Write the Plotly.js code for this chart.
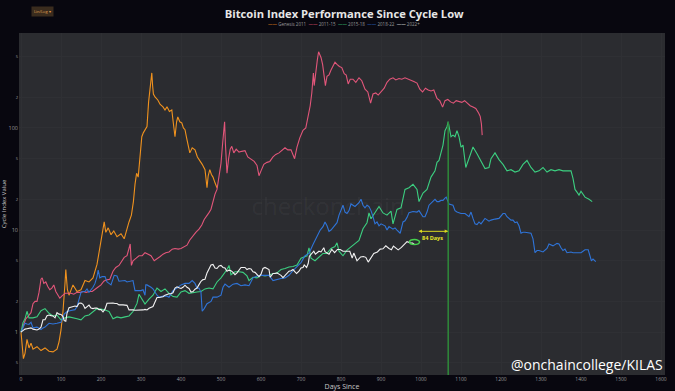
<!DOCTYPE html>
<html><head><meta charset="utf-8">
<script src="https://cdn.plot.ly/plotly-3.0.1.min.js"></script>
<style>html,body{margin:0;padding:0;background:#08070f;}#chart{width:675px;height:391px;}</style>
</head><body><div id="chart"></div>
<script>
// ---- Data (days since cycle low, index value = price / price at cycle low) ----
const seriesNames = ['Genesis 2011', '2011-15', '2015-18', '2018-22', '2022+'];
const seriesColors = ['#f0921e', '#e2567a', '#3ccf80', '#2f74d8', '#f2f2f2'];

const genesisDays = [0,3,6,10,15,20,25,30,40,50,
  60,70,80,90,95,100,105,110,112,116,
  120,130,140,150,160,170,180,190,200,205,
  208,212,218,225,232,240,250,258,265,270,
  276,281,285,289,293,297,302,306,310,315,
  319,322,325,327,329,331,335,342,348,355,
  360,365,371,377,381,385,389,392,397,402,
  406,410,414,417,422,428,435,441,447,453,
  460,465,468,472,476,480,485,490];
const genesisIdx = [1.0,0.75,0.55,0.62,0.85,0.7,0.78,0.68,0.72,0.66,
  0.7,0.65,0.64,0.68,0.8,1.05,1.6,3.0,4.1,2.6,
  2.3,2.9,2.5,2.6,3.2,3.1,3.4,4.6,7.5,10.5,
  12,9.5,10.5,9,9.8,8.6,9.2,8.2,10.5,12,
  14,19,28,36,33,55,82,90,96,103,
  180,220,280,346,260,215,201,188,170,161,
  150,161,145,150,110,82,115,128,115,112,
  100,96,80,71,57,64,61,52,48,44,
  39,26,34,39,35,33,29,26];

const c1115Days = [0,4,8,12,16,20,25,30,35,40,
  45,50,53,57,62,67,72,77,82,87,
  92,97,102,110,118,125,132,140,148,155,
  163,170,178,185,192,200,207,214,222,230,
  237,245,252,258,265,270,273,276,280,288,
  295,303,310,318,325,333,340,348,355,362,
  370,378,385,393,400,408,415,422,430,437,
  445,452,458,465,470,475,480,485,490,495,
  500,504,507,509,511,513,515,519,523,527,
  532,538,545,552,560,567,575,583,590,595,
  600,607,615,622,630,637,645,652,660,667,
  675,684,690,697,705,712,718,723,727,731,
  733,737,741,744,747,750,754,757,761,765,
  770,775,780,785,790,796,802,808,813,818,
  823,830,837,845,852,860,867,874,880,887,
  893,900,908,915,922,930,937,945,952,960,
  967,975,982,990,997,1004,1011,1018,1025,1032,
  1040,1047,1054,1060,1067,1074,1081,1088,1095,1102,
  1109,1116,1123,1130,1137,1144,1148,1151,1153];
const c1115Idx = [1.0,1.1,1.25,1.35,1.4,1.45,1.55,1.9,2.0,2.0,
  2.45,3.3,3.4,3.0,3.1,2.8,2.6,2.7,2.9,2.5,
  2.3,2.15,2.25,2.4,2.4,2.4,2.35,2.45,2.45,2.5,
  2.45,2.5,2.5,2.6,2.75,2.9,3.15,3.25,3.3,3.95,
  4.3,4.5,5.0,5.4,5.6,6.4,7.3,4.5,5.0,5.3,
  5.6,5.6,6.0,5.8,5.6,5.0,5.2,5.5,5.8,6.0,
  6.1,6.5,6.6,6.5,6.6,6.8,7.1,8.0,8.8,9.5,
  10.2,11.2,12.7,13.8,14.8,16.0,19.5,22.5,25.0,35.0,
  45,70,95,115,70,45,36,50,62,66,
  57,62,58,59,60,52,49,47,43,34,
  38,44,46,47,52,55,57,60,64,61,
  61,50,65,80,95,100,130,165,220,345,
  260,380,470,558,520,490,420,345,260,320,
  330,370,410,440,420,400,390,340,330,270,
  300,300,280,310,290,240,225,175,215,220,
  210,225,245,280,300,310,295,305,300,310,
  300,290,285,275,240,225,245,235,230,235,
  195,185,160,185,190,180,175,185,180,178,
  185,175,165,160,155,140,130,110,85];

const c1518Days = [0,5,10,15,20,30,40,50,60,70,
  80,90,100,110,120,130,140,150,160,170,
  180,190,200,210,220,230,240,250,260,270,
  280,290,295,300,310,320,330,340,350,360,
  370,380,390,400,410,420,430,440,450,460,
  470,480,490,500,515,520,525,535,545,555,
  565,570,580,590,600,610,620,630,640,650,
  660,670,680,690,700,715,720,725,735,745,
  755,765,775,785,790,795,805,815,825,835,
  845,855,865,870,875,885,895,905,915,925,
  930,940,950,960,970,980,990,995,1005,1015,
  1025,1035,1040,1045,1050,1055,1060,1065,1068,1072,
  1075,1080,1085,1090,1095,1100,1105,1112,1120,1130,
  1140,1150,1160,1170,1175,1185,1195,1205,1215,1225,
  1235,1245,1255,1265,1275,1285,1295,1305,1315,1325,
  1335,1345,1355,1365,1375,1380,1385,1390,1395,1400,
  1410,1420,1428];
const c1518Idx = [1.0,1.24,1.35,1.6,1.38,1.38,1.41,1.62,1.7,1.53,
  1.44,1.47,1.32,1.38,1.41,1.39,1.35,1.32,1.44,1.47,
  1.59,1.7,1.68,1.65,1.59,1.35,1.41,1.38,1.41,1.44,
  1.59,1.91,2.35,2.2,1.88,2.1,2.3,2.7,2.5,2.65,
  2.4,2.23,2.2,2.47,2.55,2.4,2.45,2.47,2.5,2.65,
  2.7,2.65,3.1,3.4,4.1,4.5,3.65,3.9,3.9,3.85,
  3.55,3.2,3.45,3.4,3.6,3.55,3.6,3.75,3.8,4.1,
  4.2,4.35,4.4,4.55,5.3,5.6,6.7,5.3,5.0,5.4,
  5.9,5.9,6.6,6.9,7.5,6.2,5.6,6.35,6.9,7.35,
  7.9,10.3,11.8,14.7,12.9,14.7,17,14.7,14,15.3,
  11.5,15.9,16.5,25,26,28,25,19,23,25,
  33,38,46,48,59,68,94,103,115,94,
  82,85,82,94,82,65,68,41,50,65,
  56,47,40,41,50,57,49,44,38,39,
  37,38,44,48,41,37,38,41,37,39,
  38,39,38,38,38,32,25,23.5,22,24,
  21,20,19];

const c1822Days = [0,5,10,15,20,25,30,40,50,55,
  60,70,80,90,100,108,115,125,135,140,
  145,150,155,160,165,170,180,185,190,193,
  197,203,210,215,220,225,233,240,245,255,
  260,265,270,280,285,290,300,305,310,312,
  315,325,330,340,345,355,365,370,380,390,
  400,410,420,428,435,440,445,450,453,458,
  465,475,480,490,500,505,510,520,530,540,
  550,560,570,580,590,600,610,620,630,640,
  650,660,670,680,690,700,710,720,730,740,
  748,755,760,765,770,775,780,790,795,800,
  805,810,815,820,825,835,845,850,855,860,
  865,870,875,880,885,890,895,900,910,915,
  920,930,935,940,945,948,955,960,965,970,
  980,990,995,1000,1005,1010,1015,1020,1030,1035,
  1040,1045,1050,1055,1060,1063,1070,1080,1085,1090,
  1100,1110,1120,1125,1130,1135,1140,1145,1150,1160,
  1170,1175,1185,1195,1205,1210,1215,1225,1230,1235,
  1240,1245,1250,1255,1260,1270,1275,1280,1285,1290,
  1295,1305,1315,1320,1325,1330,1340,1345,1350,1355,
  1360,1365,1375,1380,1390,1400,1405,1410,1418,1422,
  1426,1430,1437];
const c1822Idx = [1.0,1.1,1.22,1.2,1.19,1.25,1.1,1.12,1.06,1.1,
  1.12,1.22,1.2,1.22,1.25,1.5,1.59,1.63,1.66,1.78,
  2.1,2.45,2.5,2.5,2.65,2.45,2.75,3.0,3.5,4.05,
  3.4,3.5,3.5,3.1,3.0,2.9,3.6,3.55,3.15,3.2,
  3.2,3.1,3.15,3.2,2.55,2.55,2.55,2.6,2.3,2.9,
  2.9,2.75,2.65,2.3,2.2,2.25,2.25,2.2,2.55,2.7,
  2.9,3.0,3.0,3.2,3.0,2.7,2.7,2.45,1.6,1.7,
  1.9,2.0,2.2,2.2,2.3,2.75,2.95,2.75,2.95,3.0,
  2.85,2.9,2.85,3.4,3.55,3.6,3.6,3.6,3.2,3.3,
  3.35,3.4,3.6,4.0,4.4,4.8,5.6,5.9,7.2,8.5,
  10,10.8,12,11,9.7,10,10.5,11.8,14,15.5,
  17.5,15,14.5,15.5,18,17,18.5,20,17.5,16.5,
  17.5,17,15.5,13.5,11.5,12,11,11.5,11,10,
  10.8,10.2,10.5,10,9.5,9.3,12,12.3,13.3,14.8,
  15.2,15,15.5,14.5,13.5,13.5,15,17.5,19,20,
  19,19,19.5,19.5,20.5,21,18,17.5,15.5,15,
  14.5,14.5,13.5,15,13,11.5,11.3,12,11.5,13,
  12.2,12.5,12.8,13,14.5,14.5,13.5,12.5,12.5,11.8,
  12,11,9.3,9.5,9.5,9.4,9.3,8.2,6,6.3,
  6.3,6.1,6.6,7.3,7.1,7,7.4,7.3,6.7,6.3,
  6.5,6,6.1,6,6,6,6.2,6.4,6.4,5.6,
  5,5.2,4.9];

const c22Days = [0,5,10,15,20,25,30,35,40,45,
  50,55,60,65,70,75,80,85,90,95,
  100,105,108,112,115,120,125,130,135,140,
  145,150,155,160,165,170,175,180,185,190,
  195,200,205,210,215,220,225,230,235,240,
  245,250,255,260,265,270,275,280,285,290,
  295,300,305,310,315,320,325,330,335,340,
  345,350,355,360,365,370,375,380,385,390,
  395,400,405,410,415,420,425,430,435,440,
  445,450,455,460,465,470,475,480,485,490,
  495,500,505,510,515,520,525,530,535,540,
  545,550,555,560,565,570,575,580,585,590,
  595,600,605,610,615,620,623,630,635,640,
  645,650,655,660,665,670,675,680,685,689,
  695,700,705,708,714,718,721,725,732,736,
  745,750,757,760,770,777,784,791,798,805,
  812,822,828,832,840,849,856,862,868,875,
  882,891,898,905,912,920,926,931,943,951,
  961,965,973,979,984];
const c22Idx = [1.0,1.04,1.07,1.08,1.09,1.1,1.07,1.06,1.05,1.07,
  1.12,1.32,1.32,1.45,1.47,1.45,1.44,1.38,1.55,1.5,
  1.49,1.42,1.3,1.28,1.53,1.73,1.75,1.77,1.8,1.78,
  1.92,1.93,1.87,1.71,1.76,1.84,1.72,1.7,1.72,1.72,
  1.66,1.66,1.58,1.68,1.92,1.93,1.91,1.93,1.91,1.91,
  1.85,1.86,1.85,1.84,1.83,1.65,1.66,1.65,1.64,1.64,
  1.63,1.65,1.65,1.67,1.65,1.71,1.73,1.78,1.97,2.18,
  2.18,2.21,2.22,2.3,2.35,2.38,2.38,2.43,2.7,2.78,
  2.72,2.68,2.75,2.88,2.75,2.68,2.47,2.5,2.63,2.7,
  2.92,3.15,3.27,3.3,3.8,4.2,4.55,4.6,4.25,4.2,
  4.45,4.5,4.3,4.25,3.95,4.05,4.0,3.85,3.65,3.8,
  4.1,4.3,4.3,4.3,4.1,4.2,4.15,3.9,3.85,3.65,
  3.5,3.7,4.2,4.3,4.2,4.1,3.45,3.75,3.75,3.8,
  3.7,3.6,3.42,3.6,3.7,3.95,4.0,4.1,3.9,3.75,
  3.95,4.25,4.3,4.55,4.3,4.7,5.55,5.8,6.2,5.8,
  6.2,6.1,6.7,6.15,5.8,6.45,6.0,6.45,6.45,6.2,
  6.17,6.2,5.3,5.95,5.0,5.45,5.5,5.4,4.85,5.3,
  5.9,6.1,6.5,6.55,7.0,6.6,6.4,6.95,6.4,6.75,
  7.35,7.7,7.5,7.45,7.2];

const xTickStep = 100;
const xRange = [-5, 1610];
const yLogRange = [-0.42, 2.93];

// ---- Build ----
const allDays = [genesisDays, c1115Days, c1518Days, c1822Days, c22Days];
const allIdx = [genesisIdx, c1115Idx, c1518Idx, c1822Idx, c22Idx];
const traces = seriesNames.map((n, i) => ({
  type: 'scatter', mode: 'lines', name: n,
  x: allDays[i], y: allIdx[i],
  line: {color: seriesColors[i], width: 1.1}
}));

// comparison: current cycle end vs 2015-18 peak
const curEndDay = c22Days[c22Days.length - 1];
const curEndVal = c22Idx[c22Idx.length - 1];
let pk = 0; c1518Idx.forEach((v, i) => { if (v > c1518Idx[pk]) pk = i; });
const peakDay = c1518Days[pk], peakVal = c1518Idx[pk];
const gapDays = peakDay - curEndDay;
const curEndLog = Math.log10(curEndVal);

const legendText = seriesNames.map((n, i) =>
  `<span style="color:${seriesColors[i]}">——</span> ${n}`).join('  ');

const layout = {
  width: 675, height: 391,
  paper_bgcolor: '#08070f', plot_bgcolor: '#2b2c30',
  margin: {l: 19, r: 10, t: 33, b: 16},
  showlegend: false,
  font: {family: 'Open Sans, sans-serif', color: '#bbbbbb'},
  title: {text: '<b>Bitcoin Index Performance Since Cycle Low</b>',
    font: {family: 'Open Sans', size: 11.2, color: '#e6e6e6'},
    x: 0.51, xanchor: 'center', y: 0.963, yanchor: 'middle'},
  xaxis: {range: xRange, dtick: xTickStep, tick0: 0, showgrid: true, gridcolor: '#2f3034', gridwidth: 1,
    zeroline: false, showline: false, ticks: '',
    tickfont: {size: 5, color: '#9a9a9a'},
    title: {text: 'Days Since', font: {size: 7, color: '#c8c8c8'}, standoff: 1}},
  yaxis: {type: 'log', range: yLogRange, dtick: 'D2', showgrid: true, gridcolor: '#2f3034',
    zeroline: false, showline: false, ticks: '',
    tickfont: {size: 5.5, color: '#9a9a9a'},
    title: {text: 'Cycle Index Value', font: {size: 6, color: '#c8c8c8'}, standoff: 2}},
  shapes: [
    {type: 'line', xref: 'x', yref: 'y', x0: peakDay, x1: peakDay,
      y0: Math.pow(10, yLogRange[0]), y1: peakVal,
      line: {color: '#2f8a3a', width: 1.5}},
    {type: 'circle', xref: 'x', yref: 'y', xsizemode: 'pixel', ysizemode: 'pixel',
      xanchor: curEndDay, yanchor: curEndVal, x0: -5, x1: 5, y0: -5, y1: 5,
      line: {color: '#46d24e', width: 1.5}}
  ],
  annotations: [
    {xref: 'paper', yref: 'paper', x: 0.503, y: 1.026, xanchor: 'center', yanchor: 'middle',
      text: legendText, showarrow: false, font: {size: 4.5, color: '#9a9a9a'}},
    {xref: 'paper', yref: 'paper', x: 0.036, y: 1.064, xanchor: 'center', yanchor: 'middle',
      text: 'Lin/Log ▾', showarrow: false,
      bgcolor: '#3a2c1e', borderpad: 2, font: {size: 4, color: '#e0a050'}},
    {xref: 'paper', yref: 'paper', x: 0.47, y: 0.497, xanchor: 'center', yanchor: 'middle',
      text: '<span style="color:rgba(240,146,30,0.3)">_</span>checkonchain',
      showarrow: false, font: {size: 24, color: 'rgba(255,255,255,0.05)'}},
    {xref: 'x', yref: 'y', axref: 'x', ayref: 'y', x: peakDay, y: curEndLog + 0.13,
      ax: curEndDay + 6, ay: curEndLog + 0.13, text: '', showarrow: true,
      arrowside: 'end+start', arrowhead: 2, arrowsize: 0.7, arrowwidth: 1, arrowcolor: '#d8d820'},
    {xref: 'x', yref: 'y', x: (peakDay + curEndDay) / 2 + 3, y: curEndLog + 0.065,
      text: `<b>${gapDays} Days</b>`, showarrow: false, font: {size: 5.5, color: '#e6e62a'}},
    {xref: 'paper', yref: 'paper', x: 1.0, y: 0.03, xanchor: 'right', yanchor: 'middle',
      text: '@onchaincollege/KILAS', showarrow: false,
      font: {family: 'Open Sans', size: 14, color: '#ffffff'}}
  ]
};

Plotly.newPlot('chart', traces, layout, {displayModeBar: false, staticPlot: true});
</script></body></html>
